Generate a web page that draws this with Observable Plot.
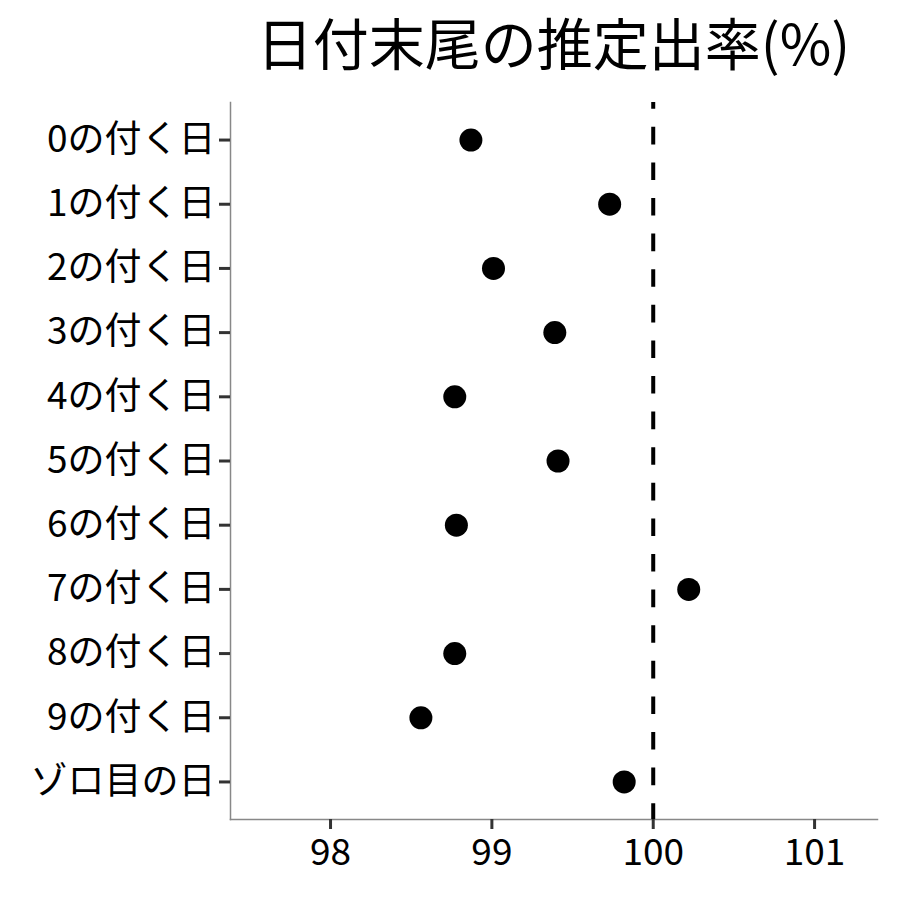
<!DOCTYPE html>
<html><head><meta charset="utf-8">
<script src="https://cdn.jsdelivr.net/npm/d3@7"></script>
<script src="https://cdn.jsdelivr.net/npm/@observablehq/plot@0.6"></script>
<style>
body{margin:0;background:#fff;}
#wrap{position:relative;width:900px;height:900px;}
#chart{position:absolute;left:0;top:0;}
#title{position:absolute;left:230px;width:647px;top:13px;text-align:center;font-family:"Noto Sans CJK JP",sans-serif;font-size:56px;line-height:1;color:#000;white-space:nowrap;}
</style></head>
<body><div id="wrap"><div id="chart"></div><div id="title">日付末尾の推定出率(%)</div></div>
<script>
const categories = ["0の付く日","1の付く日","2の付く日","3の付く日","4の付く日","5の付く日","6の付く日","7の付く日","8の付く日","9の付く日","ゾロ目の日"];
const values = [98.87, 99.73, 99.01, 99.39, 98.77, 99.41, 98.78, 100.22, 98.77, 98.56, 99.82];
const xTicks = [98, 99, 100, 101];
const xDomain = [97.38, 101.39];
const referenceValue = [100];
const data = categories.map((c, i) => ({category: c, value: values[i]}));

const chart = Plot.plot({
  width: 900, height: 900,
  marginTop: 102, marginBottom: 81, marginLeft: 230, marginRight: 23,
  style: {fontFamily: '"Noto Sans CJK JP", sans-serif', fontSize: "37px", color: "#000", background: "#fff"},
  x: {domain: xDomain, ticks: xTicks, tickFormat: d => String(d), label: null},
  y: {type: "point", domain: categories, padding: 0.585, round: false, label: null},
  marks: [
    Plot.frame({anchor: "left", stroke: "#888", strokeWidth: 1.5}),
    Plot.frame({anchor: "bottom", stroke: "#888", strokeWidth: 1.5}),
    Plot.axisY({ticks: categories, tickSize: 11, tickPadding: 4, stroke: "#333", strokeWidth: 3, fill: "#000", fontSize: 37, label: null}),
    Plot.axisX({ticks: xTicks, tickSize: 10, tickPadding: 9, stroke: "#333", strokeWidth: 3, fill: "#000", fontSize: 37, label: null, tickFormat: d => String(d)}),
    Plot.ruleX(referenceValue, {stroke: "#000", strokeWidth: 4, strokeDasharray: "17.6,18", strokeDashoffset: 10.8}),
    Plot.dot(data, {x: "value", y: "category", r: 11.5, fill: "#000", stroke: "none"})
  ]
});
document.getElementById("chart").appendChild(chart);
</script>
</body></html>
